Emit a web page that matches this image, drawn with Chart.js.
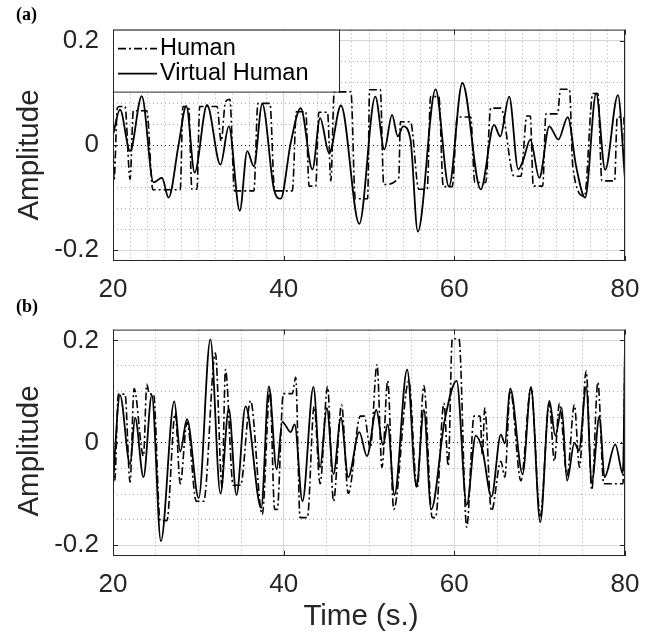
<!DOCTYPE html>
<html>
<head>
<meta charset="utf-8">
<script src="https://cdn.jsdelivr.net/npm/chart.js@4.4.1/dist/chart.umd.min.js"></script>
<style>
  html, body { margin: 0; padding: 0; background: #fff; }
  #wrap { position: relative; width: 655px; height: 639px; overflow: hidden; font-family: "Liberation Sans", Arial, sans-serif; }
  canvas { position: absolute; left: 0; }
  .tag { position: absolute; left: 16px; font: bold 18px/18px "Liberation Serif", "Times New Roman", serif; color: #000; }
  .ylab { position: absolute; width: 200px; height: 34px; line-height: 34px; text-align: center; font-size: 29.5px; color: #262626; transform: rotate(-90deg); white-space: nowrap; }
  .xlab { position: absolute; width: 200px; height: 34px; line-height: 34px; text-align: center; font-size: 29.5px; color: #262626; white-space: nowrap; }
</style>
</head>
<body>
<div id="wrap">
  <canvas id="chartA" width="655" height="300" style="top:0px"></canvas>
  <canvas id="chartB" width="655" height="339" style="top:300px"></canvas>
  <div class="tag" style="top:5px">(a)</div>
  <div class="tag" style="top:297px">(b)</div>
  <div class="ylab" style="left:-72px; top:138px">Amplitude</div>
  <div class="ylab" style="left:-72px; top:434px">Amplitude</div>
  <div class="xlab" style="left:261px; top:598px">Time (s.)</div>
</div>
<script>
// ---- panel (a) ----
const aTimeHuman = [20, 20.12, 20.51, 20.75, 21.41, 22.0, 22.39, 23.96, 24.67, 27.88, 28.2, 28.86, 29.25, 29.84, 30.16, 32.2, 32.67, 33.18, 33.69, 34.24, 36.51, 36.98, 38.39, 38.94, 41.02, 41.49, 42.59, 42.98, 43.76, 44.12, 45.14, 45.53, 45.92, 47.88, 48.39, 49.84, 50.07, 51.33, 51.72, 53.49, 53.68, 54.86, 55.84, 56.82, 57.21, 58.19, 58.7, 59.76, 60.35, 61.92, 62.39, 63.68, 64.27, 65.45, 67.0, 67.8, 68.5, 68.9, 69.25, 70.35, 70.74, 72.11, 72.43, 73.49, 73.88, 75.25, 76.23, 76.82, 77.29, 78.78, 79.09, 79.85, 80];
const aHuman = [0.011, -0.068, 0.071, 0.074, 0.074, -0.065, 0.066, 0.066, -0.085, -0.085, 0.074, 0.074, -0.084, -0.084, 0.074, 0.074, 0.008, 0.083, 0.088, -0.087, -0.087, 0.08, 0.08, -0.087, -0.087, 0.064, 0.064, -0.078, -0.078, 0.063, 0.063, -0.068, 0.102, 0.102, -0.102, -0.102, 0.106, 0.106, -0.075, -0.062, 0.045, 0.045, -0.084, -0.084, 0.093, 0.093, -0.079, -0.079, 0.054, 0.054, -0.071, -0.071, 0.071, 0.071, -0.059, -0.059, 0.056, 0.056, -0.078, -0.078, 0.06, 0.06, 0.107, 0.107, -0.04, -0.097, 0.099, 0.099, -0.068, -0.068, 0.054, 0.054, -0.065];
const aTimeVirtual = [20, 20.82, 22.0, 23.37, 24.75, 25.73, 26.51, 27.69, 28.59, 29.57, 31.02, 32.59, 33.57, 34.86, 35.73, 36.51, 37.49, 38.86, 39.65, 40.82, 42.0, 43.37, 44.27, 45.33, 46.71, 48.86, 50.74, 51.8, 52.7, 53.37, 54.0, 54.86, 55.72, 57.8, 59.37, 60.94, 63.09, 64.66, 65.37, 66.43, 67.49, 68.1, 68.9, 69.96, 71.13, 72.19, 73.29, 74.27, 75.33, 76.62, 77.68, 79.17, 80];
const aVirtual = [0.02, 0.068, -0.011, 0.094, -0.071, -0.062, -0.1, 0.001, 0.075, -0.052, 0.077, -0.037, 0.036, -0.125, -0.011, -0.04, 0.079, -0.084, -0.102, 0.004, 0.071, -0.046, 0.052, -0.015, 0.076, -0.15, 0.093, -0.008, 0.058, 0.017, 0.036, 0.011, -0.165, 0.107, -0.079, 0.119, -0.084, 0.039, 0.017, 0.093, -0.046, -0.027, 0.011, -0.062, 0.036, 0.011, 0.054, -0.04, -0.1, 0.099, -0.047, 0.096, -0.065];

// ---- panel (b) ----
const bTimeHuman = [20, 20.2, 20.63, 21.41, 22.0, 22.47, 23.57, 23.96, 24.27, 24.75, 25.53, 26.31, 27.29, 27.88, 28.67, 29.76, 30.63, 32.0, 32.78, 33.18, 34.08, 34.94, 36.12, 37.49, 38.39, 38.94, 39.25, 39.96, 41.02, 41.41, 41.92, 42.78, 43.57, 44.27, 45.14, 45.84, 46.78, 47.57, 48.98, 49.45, 50.15, 50.94, 51.52, 52.19, 52.9, 54.66, 55.64, 56.43, 57.41, 57.8, 58.78, 59.29, 59.76, 60.54, 61.45, 62.31, 63.01, 63.29, 63.56, 64.35, 65.45, 65.92, 66.55, 67.8, 68.98, 70.07, 71.13, 71.72, 72.31, 73.21, 74.07, 74.66, 75.45, 76.11, 76.82, 77.52, 79.76, 80];
const bHuman = [-0.011, -0.074, 0.095, 0.095, -0.077, 0.106, -0.026, 0.114, 0.095, 0.095, -0.152, -0.152, 0.058, -0.08, 0.04, -0.114, -0.114, 0.175, -0.086, 0.143, -0.083, -0.083, 0.082, -0.14, 0.103, -0.13, -0.13, 0.096, 0.096, 0.128, -0.146, -0.146, 0.071, -0.08, 0.11, -0.114, 0.074, -0.099, 0.052, 0.052, -0.011, 0.153, -0.048, 0.121, -0.13, 0.121, -0.089, 0.112, -0.146, -0.146, 0.077, -0.045, 0.203, 0.203, -0.165, 0.052, 0.052, -0.023, 0.068, -0.133, -0.036, -0.067, 0.103, -0.074, 0.106, -0.143, 0.077, -0.036, 0.077, -0.064, 0.074, -0.048, 0.14, -0.092, 0.118, -0.08, -0.08, 0.2];
const bTimeVirtual = [20, 20.82, 22.0, 22.59, 23.57, 24.55, 25.61, 27.18, 27.88, 28.67, 30.04, 31.41, 32.59, 33.57, 34.47, 35.53, 37.37, 38.27, 39.18, 39.84, 40.82, 41.29, 42.2, 43.49, 44.27, 45.06, 45.84, 46.71, 47.57, 48.86, 49.76, 50.86, 51.64, 52.19, 52.98, 54.47, 55.56, 56.43, 57.29, 58.86, 60.27, 61.45, 62.51, 63.29, 64.35, 65.45, 65.92, 66.55, 68.0, 68.98, 70.07, 71.13, 71.84, 72.58, 73.21, 74.07, 74.6, 75.45, 76.11, 77.01, 77.6, 78.86, 79.76, 80];
const bVirtual = [-0.074, 0.093, -0.042, 0.049, -0.067, 0.093, -0.192, 0.081, -0.017, 0.046, -0.108, 0.202, -0.099, 0.066, -0.102, 0.071, -0.127, 0.11, -0.052, 0.041, 0.021, 0.036, -0.114, 0.109, -0.048, 0.068, -0.061, 0.049, -0.067, 0.021, -0.026, 0.064, -0.004, 0.036, -0.102, 0.143, -0.086, 0.064, -0.13, 0.043, 0.121, -0.121, 0.014, -0.014, -0.105, 0.016, -0.001, 0.106, -0.061, 0.109, -0.155, 0.082, 0.014, 0.068, -0.074, 0.0, -0.015, 0.109, -0.077, 0.052, -0.067, -0.003, -0.061, 0.19];

const seriesLabels = ["Human", "Virtual Human"];
const xTicks = [20, 40, 60, 80];
const yTicks = [-0.2, 0, 0.2];

Chart.defaults.font.family = '"Liberation Sans", Arial, sans-serif';

const minorGrid = "rgba(38,38,38,0.38)";
const majorGrid = "#d6d6d6";
const axisColor = "#262626";

const toPoints = (t, v) => t.map((x, i) => ({ x: x, y: v[i] }));

// keep only ticks on multiples of step
function keepStep(step) {
  return scale => {
    scale.ticks = scale.ticks.filter(t => Math.abs(t.value / step - Math.round(t.value / step)) < 1e-6);
  };
}

// box around the axes, inward tick marks, legend inside the plot
const axesBox = {
  id: "axesBox",
  afterDraw(chart, args, opts) {
    const { ctx, chartArea: a } = chart;
    const xs = chart.scales.x, ys = chart.scales.y;
    ctx.save();
    ctx.strokeStyle = axisColor;
    ctx.lineWidth = 1;
    ctx.beginPath();
    xTicks.forEach(v => {
      const px = Math.round(xs.getPixelForValue(v)) + 0.5;
      ctx.moveTo(px, a.bottom); ctx.lineTo(px, a.bottom - 5);
      ctx.moveTo(px, a.top); ctx.lineTo(px, a.top + 5);
    });
    yTicks.forEach(v => {
      const py = Math.round(ys.getPixelForValue(v)) + 0.5;
      ctx.moveTo(a.left, py); ctx.lineTo(a.left + 5, py);
      ctx.moveTo(a.right, py); ctx.lineTo(a.right - 5, py);
    });
    ctx.stroke();
    ctx.strokeRect(a.left + 0.5, a.top + 0.5, a.width - 1, a.height - 1);

    if (opts.show) {
      const lx = a.left, ly = a.top, lw = 226, lh = 62;
      ctx.fillStyle = "#fff";
      ctx.fillRect(lx, ly, lw, lh);
      ctx.strokeStyle = axisColor;
      ctx.strokeRect(lx + 0.5, ly + 0.5, lw, lh);
      chart.data.datasets.forEach((ds, i) => {
        const cy = ly + 19 + i * 25;
        ctx.strokeStyle = ds.borderColor;
        ctx.lineWidth = ds.borderWidth;
        ctx.setLineDash(ds.borderDash || []);
        ctx.beginPath();
        ctx.moveTo(lx + 5, cy); ctx.lineTo(lx + 44, cy);
        ctx.stroke();
        ctx.setLineDash([]);
        ctx.fillStyle = "#000";
        ctx.font = '23.5px "Liberation Sans", Arial, sans-serif';
        ctx.textBaseline = "middle";
        ctx.fillText(ds.label, lx + 47, cy);
      });
    }
    ctx.restore();
  }
};

function makePanel(id, cfg) {
  return new Chart(document.getElementById(id), {
    type: "line",
    data: {
      datasets: [
        {
          label: seriesLabels[0],
          data: toPoints(cfg.tH, cfg.vH),
          borderColor: "#000",
          borderWidth: 1.6,
          borderDash: [8, 3, 2, 3],
          pointRadius: 0,
          cubicInterpolationMode: "monotone",
          fill: false
        },
        {
          label: seriesLabels[1],
          data: toPoints(cfg.tV, cfg.vV),
          borderColor: "#000",
          borderWidth: 1.8,
          pointRadius: 0,
          cubicInterpolationMode: "monotone",
          fill: false
        }
      ]
    },
    options: {
      responsive: false,
      animation: false,
      events: [],
      layout: { padding: { top: cfg.top, right: 30, left: 0, bottom: 0 } },
      plugins: {
        legend: { display: false },
        tooltip: { enabled: false },
        axesBox: { show: cfg.legend }
      },
      scales: {
        xm: {
          type: "linear", position: "bottom", min: 20, max: 80,
          ticks: { display: false, stepSize: cfg.xMinor, includeBounds: false },
          grid: { color: minorGrid, drawTicks: false },
          border: { display: false, dash: [1, 3] },
          afterBuildTicks: keepStep(cfg.xMinor),
          afterFit: s => { s.height = 0; }
        },
        ym: {
          type: "linear", position: "left", min: -0.221, max: 0.221,
          ticks: { display: false, stepSize: cfg.yMinor, includeBounds: false },
          grid: {
            color: c => (c.tick && Math.abs(c.tick.value) < 1e-9) ? "#222" : minorGrid,
            drawTicks: false
          },
          border: { display: false, dash: [1, 3] },
          afterBuildTicks: keepStep(cfg.yMinor),
          afterFit: s => { s.width = 0; }
        },
        x: {
          type: "linear", position: "bottom", min: 20, max: 80,
          ticks: { stepSize: 20, color: axisColor, font: { size: 26 }, padding: 13, maxRotation: 0, includeBounds: false },
          grid: { color: majorGrid, drawTicks: false },
          border: { display: false },
          afterBuildTicks: keepStep(20),
          afterFit: s => { s.height = cfg.xAxisH; }
        },
        y: {
          type: "linear", position: "left", min: -0.221, max: 0.221,
          ticks: {
            stepSize: 0.2, color: axisColor, font: { size: 26 }, padding: 14, includeBounds: false,
            callback: v => String(Math.round(v * 10) / 10)
          },
          grid: {
            color: c => (c.tick && Math.abs(c.tick.value) < 1e-9) ? "rgba(0,0,0,0)" : majorGrid,
            drawTicks: false
          },
          border: { display: false },
          afterBuildTicks: keepStep(0.2),
          afterFit: s => { s.width = 113; }
        }
      }
    },
    plugins: [axesBox]
  });
}

makePanel("chartA", {
  tH: aTimeHuman, vH: aHuman, tV: aTimeVirtual, vV: aVirtual,
  top: 28, xAxisH: 39, xMinor: 2, yMinor: 0.04, legend: true
});
makePanel("chartB", {
  tH: bTimeHuman, vH: bHuman, tV: bTimeVirtual, vV: bVirtual,
  top: 22, xAxisH: 83, xMinor: 5, yMinor: 0.05, legend: false
});
</script>
</body>
</html>
